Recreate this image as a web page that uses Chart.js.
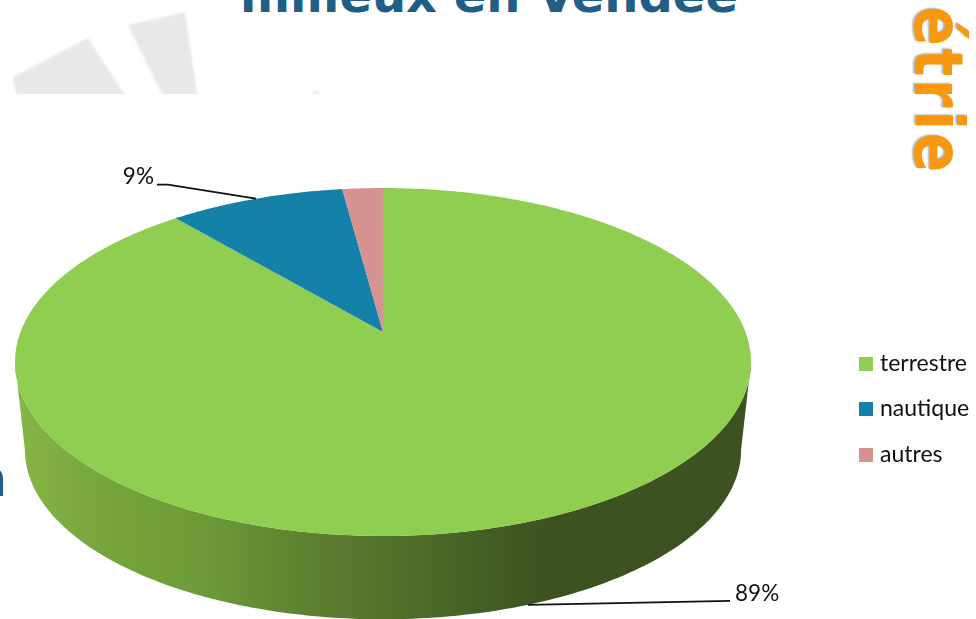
<!DOCTYPE html>
<html>
<head>
<meta charset="utf-8">
<title>milieux en Vendée</title>
<script src="https://cdn.jsdelivr.net/npm/chart.js@4"></script>
<style>
  html, body { margin: 0; padding: 0; background: #fff; }
  #page { position: relative; width: 976px; height: 619px; overflow: hidden; }
  #page > * { position: absolute; }
  #water { left: 0; top: 0; width: 976px; height: 94px; overflow: hidden; }
  #water svg { filter: blur(1.2px); }
  #title { left: 240px; top: -33px; margin: 0; font: bold 48px "DejaVu Sans"; color: #215e85; white-space: nowrap; }
  #side { left: 977px; top: 175px; font: bold 67px "DejaVu Sans"; letter-spacing: 3px; color: #f7980f; white-space: nowrap;
          transform-origin: 0 0; transform: rotate(90deg) scaleX(0.87) translateX(-100%); text-shadow: -1px 2px 2px rgba(0,0,0,.3); }
  #edge { left: -28px; top: 451px; font: bold 49px "DejaVu Sans"; color: #215e85; }
  #chart { left: 0; top: 0; }
  #legend { left: 859px; top: 340px; margin: 0; padding: 0; list-style: none; font: 23px Lato; color: #111; }
  #legend li { height: 45.3px; line-height: 44px; white-space: nowrap; }
  #legend i { display: inline-block; width: 14px; height: 14px; margin-right: 7px; }
</style>
</head>
<body>
<div id="page">
  <div id="water">
    <svg width="976" height="110">
      <polygon points="13,77 88,38 128,100 17,100" fill="#e8e8e8"/>
      <polygon points="128,25 185,12 198,100 165,100" fill="#e8e8e8"/>
      <polygon points="305,100 316,90 327,100" fill="#ececec"/>
    </svg>
  </div>
  <h1 id="title">milieux en Vendée</h1>
  <div id="side">géométrie</div>
  <div id="edge">n</div>
  <canvas id="chart" width="976" height="619"></canvas>
  <ul id="legend"></ul>
</div>
<script>
var categories = ['terrestre', 'nautique', 'autres'];
var shares = [88.8, 9.1, 2.1];
var sliceColors = ['#8fce50', '#1482a8', '#d79392'];

// perspective of the tilted disc: apex, half width, tilt
var apexX = 383, apexY = 332, tiltA = 362.5, tiltB = 168.8, tiltK = 0.1724;
var wallDrop = 88, wallScale = 0.973, midY = 362;

function project(angle) {
    // angle as chart.js gives it, -PI/2 is the top of the pie
    var u = Math.cos(angle), v = Math.sin(angle);
    var w = 1 - tiltK * v;
    return { x: apexX + tiltA * u / w, y: apexY + tiltB * v / w };
}

function projectBottom(angle) {
    var p = project(angle);
    return { x: apexX + (p.x - apexX) * wallScale, y: midY + wallDrop + (p.y - midY) * wallScale };
}

var pie3d = {
    id: 'pie3d',
    beforeDatasetDraw(chart) {
        var ctx = chart.ctx;
        var arcs = chart.getDatasetMeta(0).data;
        var i, a, p;

        // wall first, between the widest points of the two rims
        var widest = Math.asin(tiltK);
        var grad = ctx.createLinearGradient(15, 0, 751, 0);
        grad.addColorStop(0, '#88b547');
        grad.addColorStop(0.12, '#76a53c');
        grad.addColorStop(0.26, '#6c9a38');
        grad.addColorStop(0.4, '#5e8031');
        grad.addColorStop(0.58, '#496827');
        grad.addColorStop(0.72, '#3c5220');
        grad.addColorStop(1, '#3c5220');
        ctx.save();
        ctx.beginPath();
        for (i = 0; i <= 160; i++) {
            a = widest + (Math.PI - 2 * widest) * i / 160;
            p = project(a);
            if (i == 0) ctx.moveTo(p.x, p.y); else ctx.lineTo(p.x, p.y);
        }
        for (i = 160; i >= 0; i--) {
            a = widest + (Math.PI - 2 * widest) * i / 160;
            p = projectBottom(a);
            ctx.lineTo(p.x, p.y);
        }
        ctx.closePath();
        ctx.fillStyle = grad;
        ctx.fill();

        // top face, one projected shape per arc element
        arcs.forEach(function(arc, idx) {
            ctx.beginPath();
            ctx.moveTo(apexX, apexY);
            var steps = Math.max(4, Math.ceil((arc.endAngle - arc.startAngle) * 90));
            for (var s = 0; s <= steps; s++) {
                a = arc.startAngle + (arc.endAngle - arc.startAngle) * s / steps;
                p = project(a);
                ctx.lineTo(p.x, p.y);
            }
            ctx.closePath();
            ctx.fillStyle = sliceColors[idx];
            ctx.fill();
        });

        // leader lines and percent labels
        ctx.strokeStyle = '#111';
        ctx.fillStyle = '#111';
        ctx.lineWidth = 1.75;
        ctx.font = '22.5px Lato';
        ctx.textBaseline = 'middle';

        var big = arcs[0], small = arcs[1];
        p = project((small.startAngle + small.endAngle) / 2);
        ctx.beginPath();
        ctx.moveTo(p.x, p.y);
        ctx.lineTo(p.x - 88, p.y - 14);
        ctx.lineTo(p.x - 99, p.y - 14);
        ctx.stroke();
        ctx.textAlign = 'right';
        ctx.fillText(Math.round(shares[1]) + '%', p.x - 102, p.y - 22);

        p = projectBottom((big.startAngle + big.endAngle) / 2);
        ctx.beginPath();
        ctx.moveTo(p.x, p.y);
        ctx.lineTo(p.x + 202, p.y - 4);
        ctx.stroke();
        ctx.textAlign = 'left';
        ctx.fillText(Math.round(shares[0]) + '%', p.x + 207, p.y - 11);
        ctx.restore();
        return false;
    }
};

new Chart(document.getElementById('chart'), {
    type: 'pie',
    data: {
        labels: categories,
        datasets: [{ data: shares, backgroundColor: sliceColors, borderWidth: 0 }]
    },
    options: {
        responsive: false,
        animation: false,
        plugins: {
            tooltip: { enabled: false },
            legend: { display: false }
        }
    },
    plugins: [pie3d]
});

var legend = document.getElementById('legend');
categories.forEach(function(name, idx) {
    var item = document.createElement('li');
    var box = document.createElement('i');
    box.style.background = sliceColors[idx];
    item.appendChild(box);
    item.appendChild(document.createTextNode(name));
    legend.appendChild(item);
});
</script>
</body>
</html>
